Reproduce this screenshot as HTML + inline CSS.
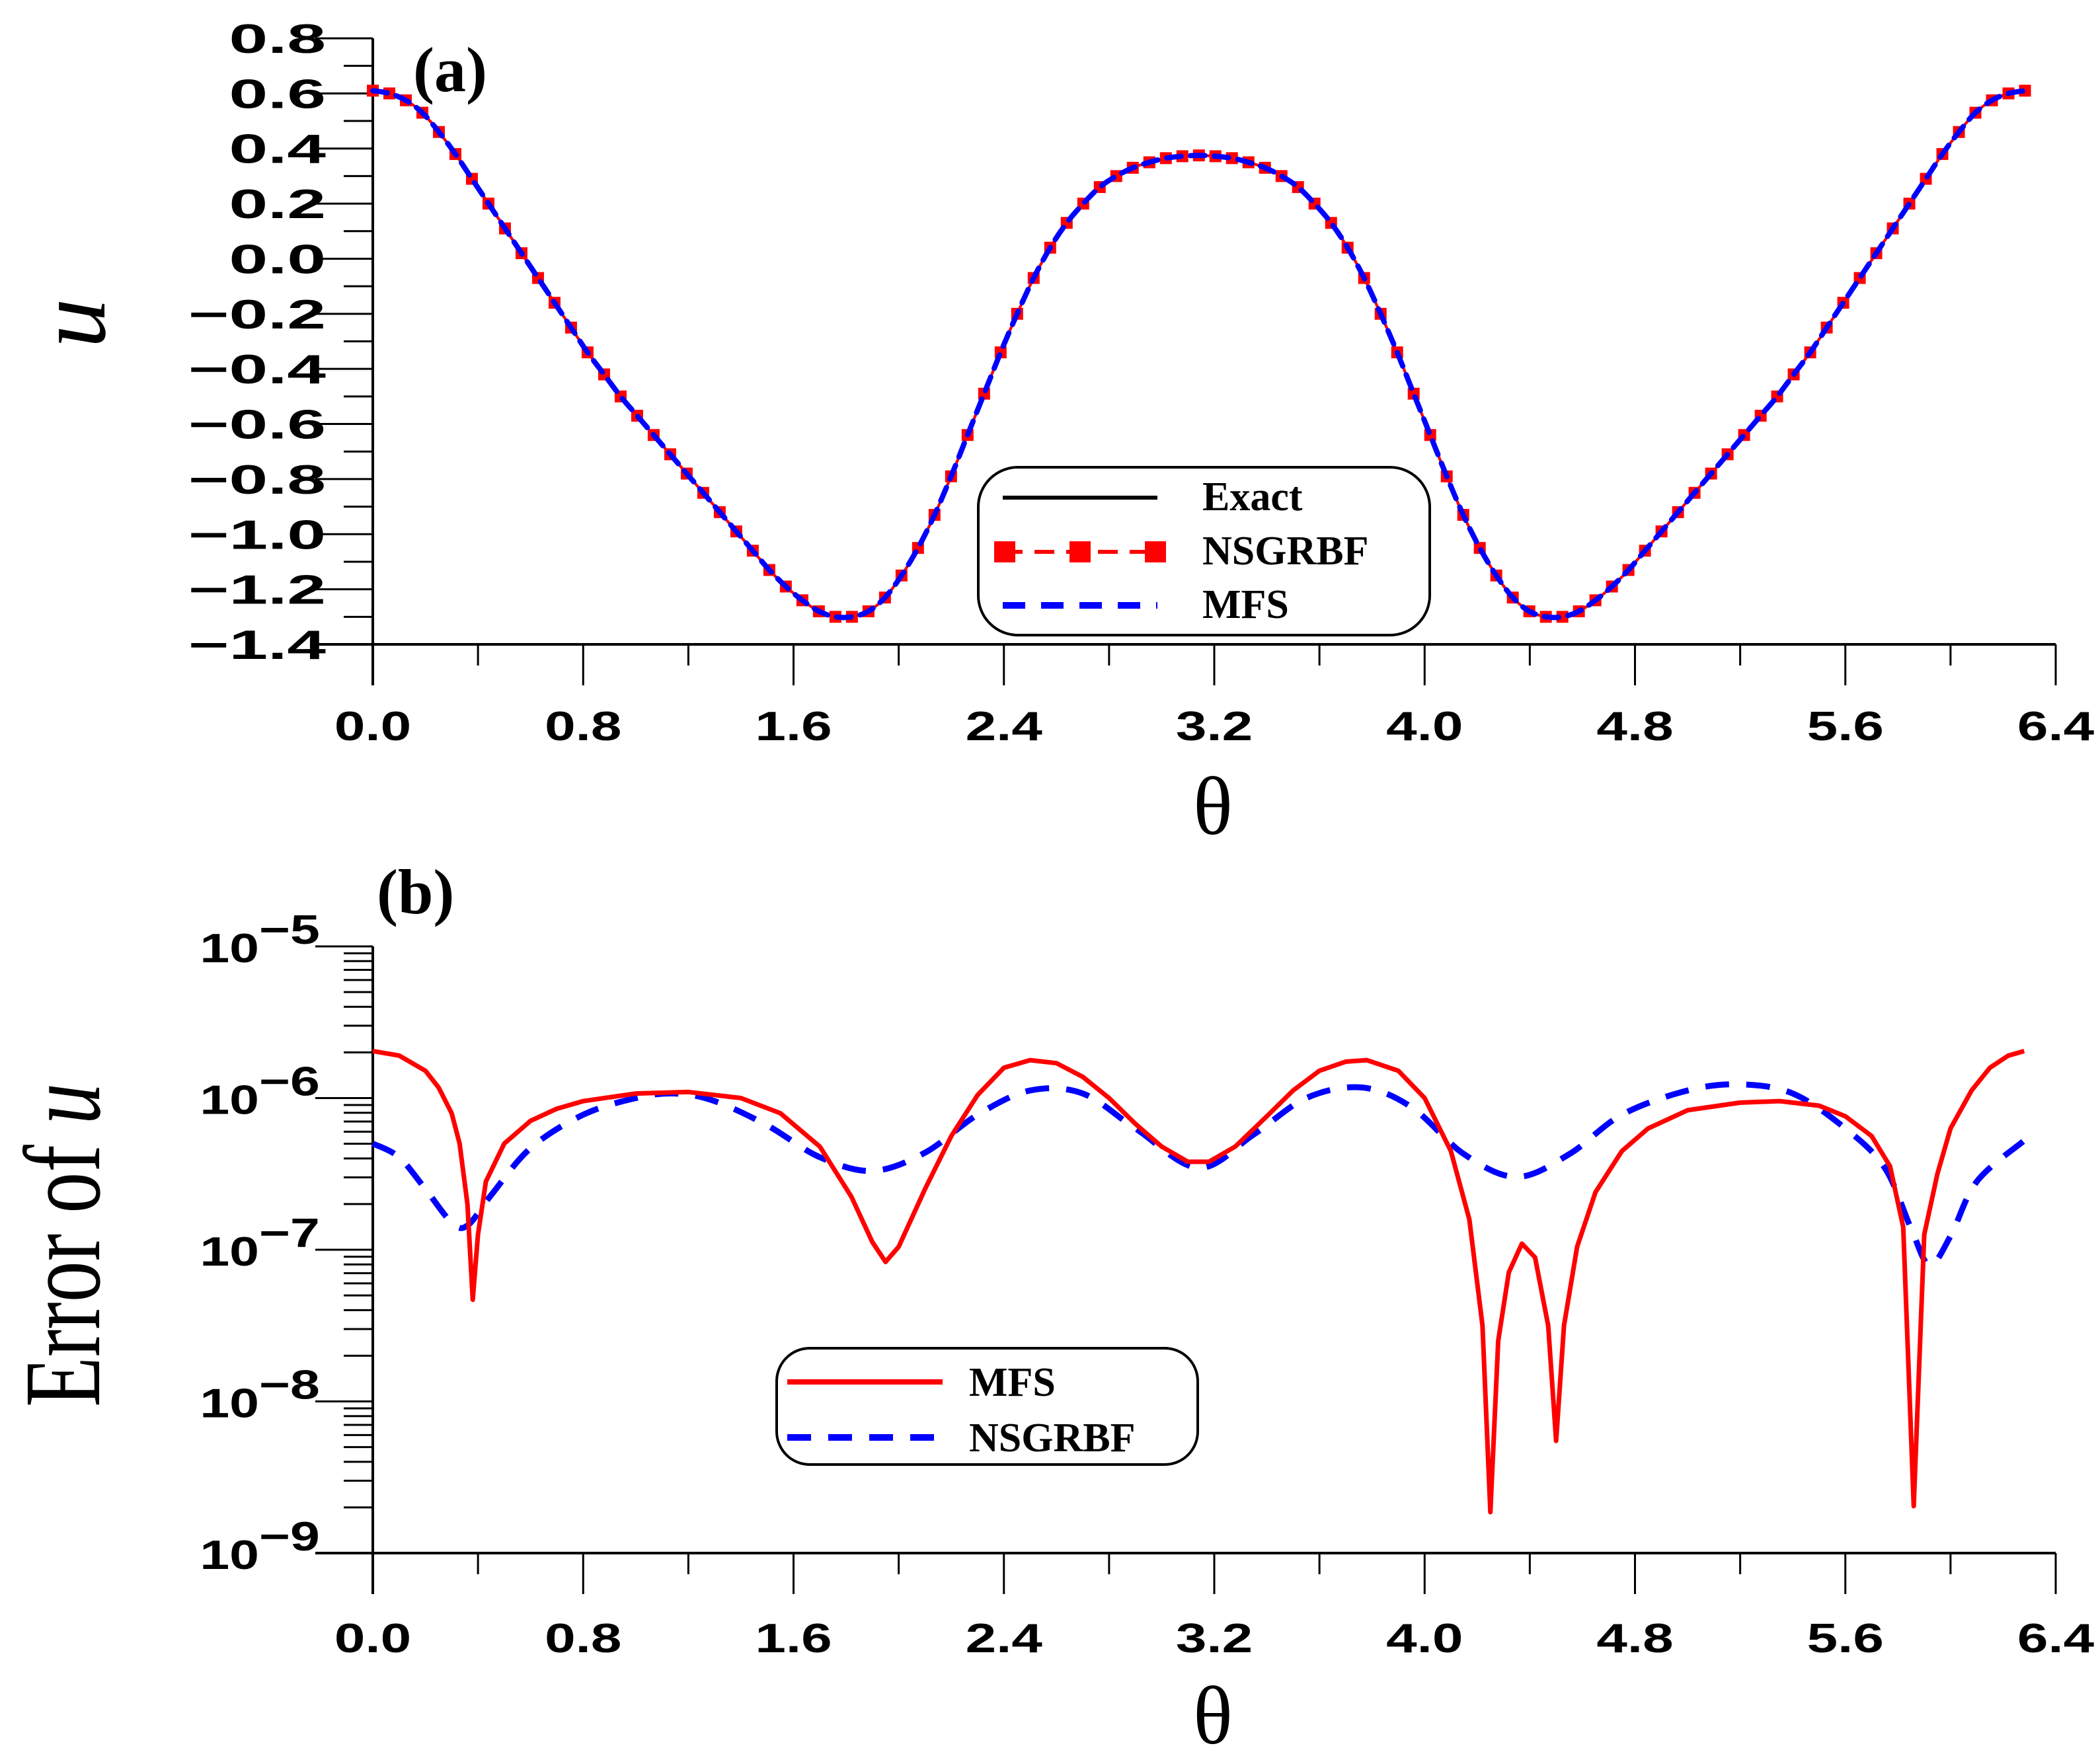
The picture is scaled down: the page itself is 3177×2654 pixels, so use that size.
<!DOCTYPE html>
<html><head><meta charset="utf-8"><style>
html,body{margin:0;padding:0;background:#fff;}
svg{display:block;}
.tl{font-family:"Liberation Sans",sans-serif;font-weight:bold;font-size:62px;fill:#000;}
.serif{font-family:"Liberation Serif",serif;fill:#000;}
</style></head><body>
<svg id="chart" width="3177" height="2654" viewBox="0 0 3177 2654" xmlns="http://www.w3.org/2000/svg">
<g id="pa"></g>
<g id="pb"></g>
<text class="serif" x="625" y="138" font-size="96" font-weight="bold">(a)</text>
<text class="serif" x="570" y="1382" font-size="96" font-weight="bold">(b)</text>
<text class="serif" transform="translate(158,489) rotate(-90)" text-anchor="middle" font-size="150" font-style="italic">u</text>
<text class="serif" x="1835" y="1262" text-anchor="middle" font-size="125">θ</text>
<text class="serif" x="1835" y="2638" text-anchor="middle" font-size="125">θ</text>
<text class="serif" transform="translate(150,1884) rotate(-90)" text-anchor="middle" font-size="165" textLength="490" lengthAdjust="spacingAndGlyphs">Error of <tspan font-style="italic">u</tspan></text>
<g>
<rect x="1480" y="707" width="683" height="254" rx="60" fill="#fff" stroke="#000" stroke-width="4"/>
<line x1="1517" y1="753" x2="1751" y2="753" stroke="#000" stroke-width="6"/>
<text class="serif" x="1819" y="772" font-size="62" font-weight="bold">Exact</text>
<line x1="1517" y1="835" x2="1751" y2="835" stroke="#f00" stroke-width="6" stroke-dasharray="30,18"/>
<rect x="1504" y="819" width="32" height="32" fill="#f00"/><rect x="1618" y="819" width="32" height="32" fill="#f00"/><rect x="1732" y="819" width="32" height="32" fill="#f00"/>
<text class="serif" x="1819" y="854" font-size="62" font-weight="bold">NSGRBF</text>
<line x1="1517" y1="916" x2="1751" y2="916" stroke="#00f" stroke-width="10" stroke-dasharray="34,24"/>
<text class="serif" x="1819" y="935" font-size="62" font-weight="bold">MFS</text>
</g>
<g>
<rect x="1175" y="2040" width="637" height="176" rx="50" fill="#fff" stroke="#000" stroke-width="4"/>
<line x1="1191" y1="2091" x2="1426" y2="2091" stroke="#f00" stroke-width="8"/>
<text class="serif" x="1466" y="2112" font-size="62" font-weight="bold">MFS</text>
<line x1="1191" y1="2175" x2="1426" y2="2175" stroke="#00f" stroke-width="10" stroke-dasharray="36,26"/>
<text class="serif" x="1466" y="2196" font-size="62" font-weight="bold">NSGRBF</text>
</g>
</svg>
<script>
// ---- Panel (a) data ----
const thetaA = [];
const uHalf = [0.61,0.60,0.575,0.53,0.46,0.38,0.29,0.20,0.11,0.02,-0.07,-0.16,-0.25,-0.34,-0.42,-0.50,-0.57,-0.64,-0.71,-0.78,-0.85,-0.92,-0.99,-1.06,-1.13,-1.19,-1.24,-1.28,-1.30,-1.30,-1.28,-1.23,-1.15,-1.05,-0.93,-0.79,-0.64,-0.49,-0.34,-0.20,-0.07,0.04,0.13,0.20,0.26,0.30,0.33,0.35,0.365,0.372,0.375];
const uSecond = [0.372,0.365,0.35,0.33,0.30,0.26,0.20,0.13,0.04,-0.07,-0.20,-0.34,-0.49,-0.64,-0.79,-0.93,-1.05,-1.15,-1.23,-1.28,-1.30,-1.30,-1.28,-1.24,-1.19,-1.13,-1.06,-0.99,-0.92,-0.85,-0.78,-0.71,-0.64,-0.57,-0.50,-0.42,-0.34,-0.25,-0.16,-0.07,0.02,0.11,0.20,0.29,0.38,0.46,0.53,0.575,0.60,0.61];
const uExact = uHalf.concat(uSecond);
for (let i = 0; i < uExact.length; i++) thetaA.push(i * 2 * Math.PI / 100);
const yTicksA = ["0.8","0.6","0.4","0.2","0.0","−0.2","−0.4","−0.6","−0.8","−1.0","−1.2","−1.4"];
const yTickValsA = [0.8,0.6,0.4,0.2,0.0,-0.2,-0.4,-0.6,-0.8,-1.0,-1.2,-1.4];
const xTickLabels = ["0.0","0.8","1.6","2.4","3.2","4.0","4.8","5.6","6.4"];
const xTickVals = [0,0.8,1.6,2.4,3.2,4.0,4.8,5.6,6.4];

// ---- Panel (b) data ----
const thetaMFS = [0,0.1,0.2,0.25,0.3,0.33,0.36,0.38,0.40,0.43,0.5,0.6,0.7,0.8,1.0,1.2,1.4,1.55,1.7,1.82,1.9,1.95,2.0,2.1,2.2,2.3,2.4,2.5,2.6,2.7,2.8,2.9,3.0,3.1,3.18,3.28,3.4,3.5,3.6,3.7,3.78,3.9,4.0,4.1,4.17,4.22,4.25,4.28,4.32,4.37,4.42,4.47,4.5,4.53,4.58,4.65,4.75,4.85,5.0,5.2,5.35,5.5,5.6,5.7,5.77,5.82,5.86,5.9,5.95,6.0,6.08,6.15,6.22,6.28];
const logMFS = [-5.69,-5.72,-5.82,-5.93,-6.1,-6.3,-6.7,-7.33,-6.9,-6.55,-6.3,-6.15,-6.07,-6.02,-5.97,-5.96,-6.0,-6.1,-6.32,-6.65,-6.95,-7.08,-6.98,-6.6,-6.25,-5.98,-5.8,-5.75,-5.77,-5.86,-6.0,-6.17,-6.32,-6.42,-6.42,-6.32,-6.12,-5.95,-5.82,-5.76,-5.75,-5.82,-6.0,-6.35,-6.8,-7.5,-8.73,-7.6,-7.15,-6.96,-7.05,-7.5,-8.26,-7.5,-6.98,-6.62,-6.35,-6.2,-6.08,-6.03,-6.02,-6.05,-6.12,-6.25,-6.45,-6.85,-8.69,-6.9,-6.5,-6.2,-5.95,-5.8,-5.72,-5.69];
const thetaNS = [0,0.1,0.2,0.3,0.36,0.45,0.6,0.8,1.0,1.15,1.3,1.5,1.7,1.9,2.1,2.3,2.5,2.7,2.9,3.14,3.35,3.55,3.76,3.95,4.15,4.35,4.55,4.75,5.0,5.2,5.4,5.6,5.75,5.85,5.92,6.0,6.1,6.28];
const logNS = [-6.30,-6.39,-6.6,-6.82,-6.84,-6.64,-6.33,-6.11,-6.0,-5.97,-6.02,-6.18,-6.39,-6.48,-6.36,-6.11,-5.95,-5.97,-6.2,-6.46,-6.24,-6.0,-5.93,-6.06,-6.37,-6.52,-6.37,-6.11,-5.95,-5.91,-5.97,-6.2,-6.46,-6.86,-7.1,-6.91,-6.55,-6.28];
const yDecadesB = [-5,-6,-7,-8,-9];

const NS = "http://www.w3.org/2000/svg";
const X0 = 564, X1 = 3110;
const sx = t => X0 + t / 6.4 * (X1 - X0);
const syA = v => 58 + (0.8 - v) / 2.2 * (975 - 58);
const syB = l => 1432 + (-5 - l) / 4 * (2350 - 1432);
function mk(tag, attrs, parent) {
  const e = document.createElementNS(NS, tag);
  for (const k in attrs) e.setAttribute(k, attrs[k]);
  parent.appendChild(e);
  return e;
}
function pathD(xs, ys, fx, fy) {
  return xs.map((t, i) => (i ? "L" : "M") + fx(t).toFixed(1) + "," + fy(ys[i]).toFixed(1)).join(" ");
}
function smoothD(xs, ys, fx, fy) {
  const P = xs.map((t, i) => [fx(t), fy(ys[i])]);
  let d = "M" + P[0][0].toFixed(1) + "," + P[0][1].toFixed(1);
  for (let i = 0; i < P.length - 1; i++) {
    const p0 = P[Math.max(0, i - 1)], p1 = P[i], p2 = P[i + 1], p3 = P[Math.min(P.length - 1, i + 2)];
    const c1 = [p1[0] + (p2[0] - p0[0]) / 6, p1[1] + (p2[1] - p0[1]) / 6];
    const c2 = [p2[0] - (p3[0] - p1[0]) / 6, p2[1] - (p3[1] - p1[1]) / 6];
    d += " C" + c1[0].toFixed(1) + "," + c1[1].toFixed(1) + " " + c2[0].toFixed(1) + "," + c2[1].toFixed(1) + " " + p2[0].toFixed(1) + "," + p2[1].toFixed(1);
  }
  return d;
}
function xAxis(g, yb, labelY) {
  const ax = mk("line", {x1: 477, y1: yb, x2: X1, y2: yb, stroke: "#000", "stroke-width": 4}, g);
  
  
  for (let i = 0; i <= 16; i++) {
    const t = i * 0.4;
    mk("line", {x1: sx(t), y1: yb, x2: sx(t), y2: yb + (i % 2 ? 32 : 62), stroke: "#000", "stroke-width": 3}, g);
  }
  xTickVals.forEach((v, i) => {
    const tx = mk("text", {class: "tl", transform: "translate(" + sx(v) + "," + labelY + ") scale(1.35,1)", "text-anchor": "middle"}, g);
    
    
    tx.textContent = xTickLabels[i];
  });
}
// Panel a
const ga = document.getElementById("pa");
const yaA = mk("line", {x1: X0, y1: 58, x2: X0, y2: 975 + 62, stroke: "#000", "stroke-width": 4}, ga);


for (let i = 0; i <= 22; i++) {
  const v = 0.8 - i * 0.1;
  mk("line", {x1: i % 2 ? 520 : 477, y1: syA(v), x2: X0, y2: syA(v), stroke: "#000", "stroke-width": 3}, ga);
}
yTickValsA.forEach((v, i) => {
  const tx = mk("text", {class: "tl", transform: "translate(493," + (syA(v) + 22) + ") scale(1.7,1)", "text-anchor": "end"}, ga);
  
  
  tx.textContent = yTicksA[i];
});
xAxis(ga, 975, 1120);
const exact = mk("path", {d: smoothD(thetaA, uExact, sx, syA), fill: "none", stroke: "#000", "stroke-width": 4}, ga);


const nsg = mk("path", {d: smoothD(thetaA, uExact, sx, syA), fill: "none", stroke: "#f00", "stroke-width": 4}, ga);


thetaA.forEach((t, i) => {
  const r = mk("rect", {x: sx(t) - 9, y: syA(uExact[i]) - 9, width: 18, height: 18, fill: "#f00"}, ga);
  
  
});
const mfsA = mk("path", {d: smoothD(thetaA, uExact, sx, syA), fill: "none", stroke: "#00f", "stroke-width": 8, "stroke-dasharray": "22,14", "stroke-linecap": "round"}, ga);



// Panel b
const gb = document.getElementById("pb");
const yaB = mk("line", {x1: X0, y1: 1432, x2: X0, y2: 2350 + 62, stroke: "#000", "stroke-width": 4}, gb);


for (let d = -9; d < -5; d++) {
  for (let m = 1; m <= 9; m++) {
    const l = d + Math.log10(m);
    mk("line", {x1: m === 1 ? 477 : 520, y1: syB(l), x2: X0, y2: syB(l), stroke: "#000", "stroke-width": 3}, gb);
  }
}
mk("line", {x1: 477, y1: syB(-5), x2: X0, y2: syB(-5), stroke: "#000", "stroke-width": 3}, gb);
yDecadesB.forEach(d => {
  const tx = mk("text", {class: "tl", transform: "translate(392," + (syB(d) + 24) + ") scale(1.3,1)", "text-anchor": "end"}, gb);
  
  
  tx.textContent = "10";
  const sp = mk("text", {class: "tl", transform: "translate(392," + (syB(d) - 4) + ") scale(1.3,1)", "font-size": 40}, gb);
  
  
  sp.textContent = "−" + (-d);
});
xAxis(gb, 2350, 2500);
const nsB = mk("path", {d: smoothD(thetaNS, logNS, sx, syB), fill: "none", stroke: "#00f", "stroke-width": 9, "stroke-dasharray": "36,26", "stroke-linejoin": "round"}, gb);


const mfsB = mk("path", {d: pathD(thetaMFS, logMFS, sx, syB), fill: "none", stroke: "#f00", "stroke-width": 7, "stroke-linejoin": "round"}, gb);


</script>
</body></html>
